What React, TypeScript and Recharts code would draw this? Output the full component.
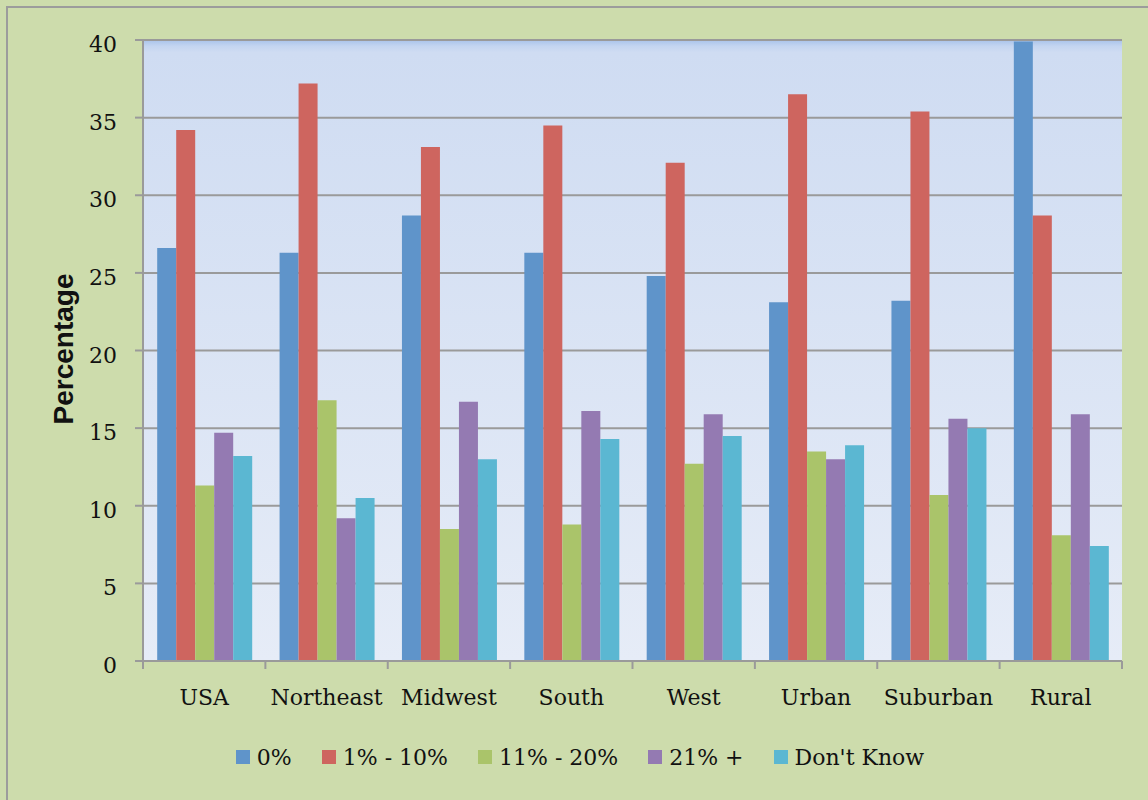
import React from 'react';
import { BarChart, Bar, XAxis, YAxis, CartesianGrid } from 'recharts';

const regions = ['USA', 'Northeast', 'Midwest', 'South', 'West', 'Urban', 'Suburban', 'Rural'];
const zeroPct = [26.6, 26.3, 28.7, 26.3, 24.8, 23.1, 23.2, 39.9];
const oneToTen = [34.2, 37.2, 33.1, 34.5, 32.1, 36.5, 35.4, 28.7];
const elevenToTwenty = [11.3, 16.8, 8.5, 8.8, 12.7, 13.5, 10.7, 8.1];
const twentyOnePlus = [14.7, 9.2, 16.7, 16.1, 15.9, 13.0, 15.6, 15.9];
const dontKnow = [13.2, 10.5, 13.0, 14.3, 14.5, 13.9, 15.0, 7.4];
const yTicks = [0, 5, 10, 15, 20, 25, 30, 35, 40];

const series = [
  { key: 'zero', name: '0%', values: zeroPct, color: '#5f94ca' },
  { key: 'low', name: '1% - 10%', values: oneToTen, color: '#ce655f' },
  { key: 'mid', name: '11% - 20%', values: elevenToTwenty, color: '#aac46a' },
  { key: 'high', name: '21% +', values: twentyOnePlus, color: '#947ab2' },
  { key: 'dk', name: "Don't Know", values: dontKnow, color: '#5bb7d2' },
];

const data = regions.map((name, i) => {
  const row: Record<string, any> = { name };
  series.forEach(s => { row[s.key] = s.values[i]; });
  return row;
});

const SERIF = '"DejaVu Serif", serif';
const GRID = '#9a9a9a';

// category label plus tick marks at the band edges
const XTick = (props: any) => {
  const { x, y, payload, index } = props;
  const half = payload?.offset ?? 61;
  return (
    <g>
      <line x1={x - half} x2={x - half} y1={y} y2={y + 8} stroke={GRID} strokeWidth={2} />
      {index === regions.length - 1 && (
        <line x1={x + half} x2={x + half} y1={y} y2={y + 8} stroke={GRID} strokeWidth={2} />
      )}
      <text x={x} y={y + 44} textAnchor="middle" fontSize={22} fontFamily={SERIF} fill="#111">
        {payload.value}
      </text>
    </g>
  );
};

const YTick = (props: any) => {
  const { x, y, payload } = props;
  return (
    <text x={x} y={y + 12} textAnchor="end" fontSize={22} fontFamily={SERIF} fill="#111">
      {payload.value}
    </text>
  );
};

export default function App() {
  return (
    <div style={{ position: 'absolute', left: 0, top: 0, width: 1148, height: 800, background: '#cddcac', overflow: 'hidden' }}>
      <div style={{ position: 'absolute', left: 6, top: 6, width: 1200, height: 900, border: '2px solid #9c9c9c' }} />
      <BarChart
        width={1148}
        height={800}
        data={data}
        margin={{ top: 40, right: 26, bottom: 99, left: 63 }}
        barCategoryGap="11.6%"
        barGap={0}
        style={{ position: 'absolute', left: 0, top: 0 }}
      >
        <defs>
          <linearGradient id="plotBg" x1="0" y1="0" x2="0" y2="1">
            <stop offset="0" stopColor="#a9c3ea" />
            <stop offset="0.01" stopColor="#c4d5f0" />
            <stop offset="0.02" stopColor="#cfdcf2" />
            <stop offset="1" stopColor="#e6ecf7" />
          </linearGradient>
        </defs>
        <CartesianGrid vertical={false} stroke={GRID} strokeWidth={2} fill="url(#plotBg)" fillOpacity={1} />
        <XAxis
          dataKey="name"
          height={40}
          axisLine={{ stroke: GRID, strokeWidth: 2 }}
          tickLine={false}
          tickSize={0}
          tickMargin={0}
          interval={0}
          tick={<XTick />}
        />
        <YAxis
          width={80}
          domain={[0, 40]}
          ticks={yTicks}
          interval={0}
          axisLine={{ stroke: GRID, strokeWidth: 2 }}
          tickLine={{ stroke: GRID, strokeWidth: 2 }}
          tickSize={8}
          tickMargin={18}
          tick={<YTick />}
        />
        {series.map(s => (
          <Bar key={s.key} dataKey={s.key} name={s.name} fill={s.color} isAnimationActive={false} />
        ))}
      </BarChart>
      <div
        style={{
          position: 'absolute', left: 64, top: 349,
          transform: 'translate(-50%, -50%) rotate(-90deg)',
          fontFamily: '"Liberation Sans", Arial, sans-serif', fontWeight: 'bold', fontSize: 28,
          lineHeight: 1, whiteSpace: 'nowrap', color: '#111',
        }}
      >
        Percentage
      </div>
      <div
        style={{
          position: 'absolute', left: 0, top: 742, width: 1160, height: 30,
          display: 'flex', justifyContent: 'center', alignItems: 'center', gap: 30,
          fontFamily: SERIF, fontSize: 22, color: '#111',
        }}
      >
        {series.map(s => (
          <div key={s.key} style={{ display: 'flex', alignItems: 'center', whiteSpace: 'nowrap' }}>
            <span style={{ width: 14, height: 14, background: s.color, marginRight: 7, display: 'inline-block' }} />
            <span>{s.name}</span>
          </div>
        ))}
      </div>
    </div>
  );
}
